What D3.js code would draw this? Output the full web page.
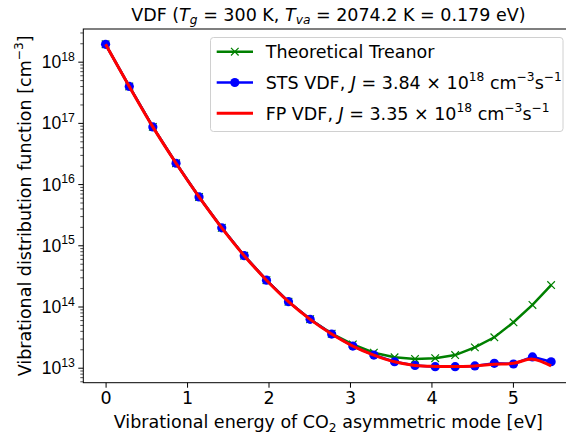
<!DOCTYPE html>
<html>
<head>
<meta charset="utf-8">
<script src="https://cdn.jsdelivr.net/npm/d3@7"></script>
<style>
  body { margin: 0; background: #fff; }
  svg { font-family: "DejaVu Sans", sans-serif; }
</style>
</head>
<body>
<div id="chart"></div>
<script>
// vibrational levels v = 0..21, energies in eV
const energy = [0, 0.291, 0.580, 0.865, 1.147, 1.426, 1.702, 1.975, 2.245, 2.511, 2.775,
  3.035, 3.293, 3.547, 3.798, 4.046, 4.291, 4.533, 4.772, 5.007, 5.240, 5.469];

const treanor = [1.92e18, 3.94e17, 8.6e16, 2.19e16, 6.17e15, 1.93e15, 6.76e14, 2.69e14, 1.20e14, 6.2e13, 3.6e13,
  2.40e13, 1.76e13, 1.48e13, 1.39e13, 1.43e13, 1.61e13, 2.15e13, 3.14e13, 5.52e13, 1.06e14, 2.24e14];

const sts = [1.92e18, 3.94e17, 8.6e16, 2.19e16, 6.17e15, 1.93e15, 6.76e14, 2.69e14, 1.20e14, 6.17e13, 3.55e13,
  2.26e13, 1.61e13, 1.25e13, 1.09e13, 1.04e13, 1.04e13, 1.07e13, 1.18e13, 1.15e13, 1.50e13, 1.25e13];

const fp = [1.92e18, 3.94e17, 8.6e16, 2.19e16, 6.17e15, 1.93e15, 6.76e14, 2.69e14, 1.20e14, 6.17e13, 3.55e13,
  2.26e13, 1.61e13, 1.25e13, 1.09e13, 1.05e13, 1.05e13, 1.07e13, 1.14e13, 1.18e13, 1.38e13, 1.07e13];

const xTicks = [0, 1, 2, 3, 4, 5];
const yExponents = [13, 14, 15, 16, 17, 18];

const W = 566, H = 437;
const m = { top: 29, left: 83.3, bottom: 382.7, right: 573.4 };
const fs = 17.5;

const svg = d3.select('#chart').append('svg')
  .attr('width', W)
  .attr('height', H);

const x = d3.scaleLinear().domain([-0.2735, 5.7425]).range([m.left, m.right]);
const y = d3.scaleLog().domain([Math.pow(10, 12.755), Math.pow(10, 18.534)]).range([m.bottom, m.top]);

// rich text helper: parts = [{t, it, sup, sub}]
function rich(sel, parts, size) {
  let shift = 0;
  parts.forEach(p => {
    let target = 0;
    if (p.sup) target = -0.42 * size;
    if (p.sub) target = 0.2 * size;
    const ts = sel.append('tspan')
      .attr('dy', target - shift)
      .style('font-size', (p.sup || p.sub ? size * 0.7 : size) + 'px')
      .text(p.t);
    if (p.it) ts.style('font-style', 'italic');
    shift = target;
  });
}

// x axis
const xAxis = d3.axisBottom(x).tickValues(xTicks).tickSize(5).tickPadding(4).tickFormat(d3.format('d'));
const gx = svg.append('g').attr('transform', `translate(0,${m.bottom})`).call(xAxis);
gx.select('.domain').remove();
gx.selectAll('.tick line').attr('stroke', '#000').attr('stroke-width', 1);
gx.selectAll('.tick text').attr('fill', '#000').style('font-size', fs + 'px').attr('font-family', 'DejaVu Sans');

// y axis: minor ticks
const minors = [];
for (let e = 12; e <= 18; e++) {
  for (let k = 2; k <= 9; k++) {
    const v = k * Math.pow(10, e);
    if (v >= y.domain()[0] && v <= y.domain()[1]) minors.push(v);
  }
}
const gyMinor = svg.append('g').attr('transform', `translate(${m.left},0)`)
  .call(d3.axisLeft(y).tickValues(minors).tickSize(3).tickFormat(''));
gyMinor.select('.domain').remove();
gyMinor.selectAll('.tick line').attr('stroke', '#000').attr('stroke-width', 0.7);
gyMinor.selectAll('.tick text').remove();

const gy = svg.append('g').attr('transform', `translate(${m.left},0)`)
  .call(d3.axisLeft(y).tickValues(yExponents.map(e => Math.pow(10, e))).tickSize(5).tickFormat(''));
gy.select('.domain').remove();
gy.selectAll('.tick text').remove();
gy.selectAll('.tick line').attr('stroke', '#000').attr('stroke-width', 1);
gy.selectAll('.tick').each(function (d, i) {
  const t = d3.select(this).append('text')
    .attr('x', -8.5).attr('y', 6)
    .attr('text-anchor', 'end')
    .attr('fill', '#000');
  rich(t, [{ t: '10' }, { t: String(yExponents[i]), sup: true }], fs);
});

// spines
svg.append('rect')
  .attr('x', m.left).attr('y', m.top)
  .attr('width', m.right - m.left).attr('height', m.bottom - m.top)
  .attr('fill', 'none').attr('stroke', '#000').attr('stroke-width', 1);

// clip
svg.append('clipPath').attr('id', 'clip').append('rect')
  .attr('x', m.left).attr('y', m.top)
  .attr('width', m.right - m.left).attr('height', m.bottom - m.top);
const plot = svg.append('g').attr('clip-path', 'url(#clip)');

const idx = d3.range(energy.length);
const lineOf = (arr, curve) => d3.line().x(i => x(energy[i])).y(i => y(arr[i])).curve(curve)(idx);

// Treanor
plot.append('path').attr('d', lineOf(treanor, d3.curveLinear))
  .attr('fill', 'none').attr('stroke', '#008000').attr('stroke-width', 2.5);
function cross(g, cx, cy, s, color) {
  g.append('path')
    .attr('d', `M${cx - s},${cy - s}L${cx + s},${cy + s}M${cx - s},${cy + s}L${cx + s},${cy - s}`)
    .attr('stroke', color).attr('stroke-width', 1.2).attr('fill', 'none');
}
idx.forEach(i => cross(plot, x(energy[i]), y(treanor[i]), 3.8, '#008000'));

// STS
plot.append('path').attr('d', lineOf(sts, d3.curveLinear))
  .attr('fill', 'none').attr('stroke', '#0000ff').attr('stroke-width', 2.5);
plot.selectAll('circle.sts').data(idx).enter().append('circle')
  .attr('class', 'sts')
  .attr('cx', i => x(energy[i])).attr('cy', i => y(sts[i]))
  .attr('r', 4.6).attr('fill', '#0000ff');

// FP
plot.append('path').attr('d', lineOf(fp, d3.curveCatmullRom))
  .attr('fill', 'none').attr('stroke', '#ff0000').attr('stroke-width', 3);

// title
const title = svg.append('text').attr('x', (m.left + m.right) / 2).attr('y', 20.7)
  .attr('text-anchor', 'middle').attr('fill', '#000');
rich(title, [
  { t: 'VDF (' }, { t: 'T', it: true }, { t: 'g', sub: true, it: true },
  { t: ' = 300 K, ' }, { t: 'T', it: true }, { t: 'va', sub: true, it: true },
  { t: ' = 2074.2 K = 0.179 eV)' }
], fs);

// x label
const xl = svg.append('text').attr('x', (m.left + m.right) / 2).attr('y', 428)
  .attr('text-anchor', 'middle').attr('fill', '#000');
rich(xl, [{ t: 'Vibrational energy of CO' }, { t: '2', sub: true }, { t: ' asymmetric mode [eV]' }], fs);

// y label
const yl = svg.append('text')
  .attr('transform', `translate(30.5,${(m.top + m.bottom) / 2}) rotate(-90)`)
  .attr('text-anchor', 'middle').attr('fill', '#000');
rich(yl, [{ t: 'Vibrational distribution function [cm' }, { t: '\u22123', sup: true }, { t: ']' }], fs);

// legend
const lg = svg.append('g');
lg.append('rect')
  .attr('x', 210.5).attr('y', 37.5).attr('width', 352.5).attr('height', 94)
  .attr('rx', 3).attr('fill', '#fff').attr('fill-opacity', 0.8)
  .attr('stroke', '#d0d0d0').attr('stroke-width', 1);

const legendRows = [
  { color: '#008000', marker: 'x', parts: [{ t: 'Theoretical Treanor' }] },
  { color: '#0000ff', marker: 'o', parts: [{ t: 'STS VDF, ' }, { t: 'J', it: true }, { t: ' = 3.84 \u00d7 10' }, { t: '18', sup: true }, { t: ' cm' }, { t: '\u22123', sup: true }, { t: 's' }, { t: '\u22121', sup: true }] },
  { color: '#ff0000', marker: null, parts: [{ t: 'FP VDF, ' }, { t: 'J', it: true }, { t: ' = 3.35 \u00d7 10' }, { t: '18', sup: true }, { t: ' cm' }, { t: '\u22123', sup: true }, { t: 's' }, { t: '\u22121', sup: true }] }
];
legendRows.forEach((r, i) => {
  const cy = 51.7 + i * 30.8;
  lg.append('line').attr('x1', 216.7).attr('x2', 253).attr('y1', cy).attr('y2', cy)
    .attr('stroke', r.color).attr('stroke-width', r.marker === null ? 3 : 2.5);
  if (r.marker === 'x') cross(lg, 234.8, cy, 3.8, r.color);
  if (r.marker === 'o') lg.append('circle').attr('cx', 234.8).attr('cy', cy).attr('r', 4.6).attr('fill', r.color);
  const t = lg.append('text').attr('x', 265.7).attr('y', cy + 6.2).attr('fill', '#000');
  rich(t, r.parts, fs);
});
</script>
</body>
</html>
